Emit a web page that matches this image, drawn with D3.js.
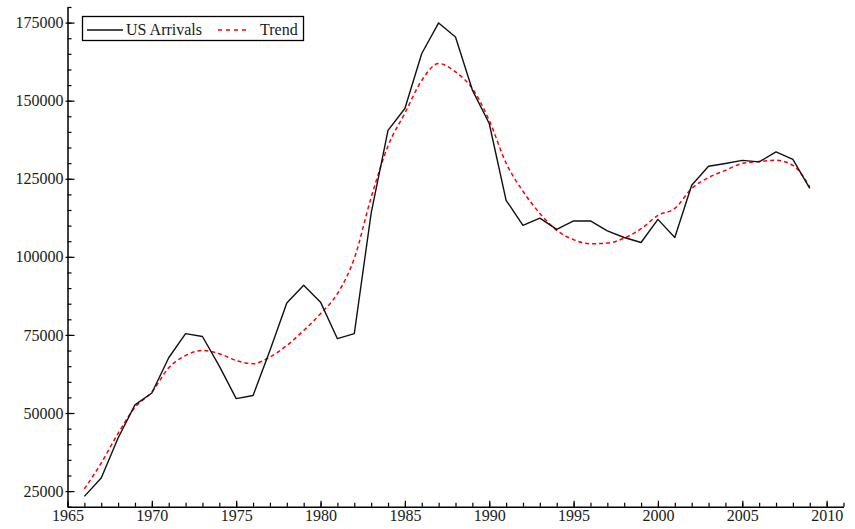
<!DOCTYPE html>
<html>
<head>
<meta charset="utf-8">
<script src="https://cdn.jsdelivr.net/npm/d3@7"></script>
<style>
  html, body { margin: 0; padding: 0; background: #fff; }
  svg { display: block; }
  text { font-family: "Liberation Serif", "Times New Roman", serif; }
</style>
</head>
<body>
<svg id="chart" width="855" height="529"></svg>
<script>
const years = [1966,1967,1968,1969,1970,1971,1972,1973,1974,1975,1976,1977,1978,1979,1980,
  1981,1982,1983,1984,1985,1986,1987,1988,1989,1990,1991,1992,1993,1994,1995,1996,1997,
  1998,1999,2000,2001,2002,2003,2004,2005,2006,2007,2008,2009];
const usArrivals = [23300,29200,42000,52600,56400,67700,75400,74500,65000,54600,55600,70000,
  85200,90900,85500,73800,75400,114000,140500,147500,165100,174900,170400,153400,142700,
  118100,110100,112400,108800,111500,111500,108300,106200,104600,112000,106200,122900,
  129000,129900,130900,130400,133600,131200,121900];
const trend = [25700,34000,43500,51800,56700,64500,68400,70000,69000,66800,65800,67900,71600,
  76400,81800,88200,99500,119000,135500,146000,156500,161900,159200,153900,143700,130000,
  121000,113900,108500,105500,104200,104400,106000,109000,113300,115500,121900,125400,
  127700,129900,130500,130900,129300,122400];
const xMajorTicks = [1965,1970,1975,1980,1985,1990,1995,2000,2005,2010];
const yMajorTicks = [25000,50000,75000,100000,125000,150000,175000];
const seriesNames = ["US Arrivals", "Trend"];

const svg = d3.select("#chart");
const x = d3.scaleLinear().domain([1965, 2011]).range([67.5, 843.5]);
const y = d3.scaleLinear().domain([20000, 180000]).range([506.7, 7]);

// minor y ticks
const yMinor = svg.append("g").attr("transform", `translate(${x(1965)},0)`)
  .call(d3.axisLeft(y).tickValues(d3.range(20000, 180001, 5000)).tickSize(-4).tickFormat(""));
yMinor.select(".domain").remove();
yMinor.selectAll("line").attr("stroke", "#000").attr("stroke-width", 1.2);

// major y axis
const yAx = svg.append("g").attr("transform", `translate(${x(1965)},0)`)
  .call(d3.axisLeft(y).tickValues(yMajorTicks).tickSize(-7).tickSizeOuter(0).tickPadding(4).tickFormat(d3.format("d")));
yAx.select(".domain").attr("stroke", "#000").attr("stroke-width", 1.5);
yAx.selectAll(".tick line").attr("x1", -2).attr("stroke", "#000").attr("stroke-width", 1.2);
yAx.selectAll("text").attr("font-size", 16).attr("fill", "#1a1a1a")
  .style("font-family", "'Liberation Serif', serif");

// minor x ticks
const xMinor = svg.append("g").attr("transform", `translate(0,${y(20000)})`)
  .call(d3.axisBottom(x).tickValues(d3.range(1965, 2012, 1)).tickSize(-4).tickFormat(""));
xMinor.select(".domain").remove();
xMinor.selectAll("line").attr("stroke", "#000").attr("stroke-width", 1.2);

// major x axis
const xAx = svg.append("g").attr("transform", `translate(0,${y(20000)})`)
  .call(d3.axisBottom(x).tickValues(xMajorTicks).tickSize(-6).tickSizeOuter(0).tickPadding(4).tickFormat(d3.format("d")));
xAx.select(".domain").attr("stroke", "#000").attr("stroke-width", 1.5);
xAx.selectAll(".tick line").attr("stroke", "#000").attr("stroke-width", 1.2);
xAx.selectAll("text").attr("font-size", 16).attr("fill", "#1a1a1a").attr("dy", "0.62em")
  .style("font-family", "'Liberation Serif', serif");

// lines
const arrData = years.map((yr, i) => [yr, usArrivals[i]]);
const trendData = years.map((yr, i) => [yr, trend[i]]);

svg.append("path").datum(trendData)
  .attr("fill", "none").attr("stroke", "#ff0000").attr("stroke-width", 1.5)
  .attr("stroke-dasharray", "4,3")
  .attr("d", d3.line().x(d => x(d[0])).y(d => y(d[1])).curve(d3.curveMonotoneX));

svg.append("path").datum(arrData)
  .attr("fill", "none").attr("stroke", "#111").attr("stroke-width", 1.4)
  .attr("stroke-linejoin", "round")
  .attr("d", d3.line().x(d => x(d[0])).y(d => y(d[1])));

// legend
const lg = svg.append("g");
lg.append("rect").attr("x", 82.5).attr("y", 16.5).attr("width", 221).attr("height", 24)
  .attr("fill", "#fff").attr("stroke", "#000").attr("stroke-width", 1.3);
lg.append("line").attr("x1", 87).attr("x2", 123).attr("y1", 30).attr("y2", 30)
  .attr("stroke", "#111").attr("stroke-width", 1.4);
lg.append("text").attr("x", 126).attr("y", 35).attr("font-size", 16).attr("fill", "#1a1a1a")
  .text(seriesNames[0]);
lg.append("line").attr("x1", 218).attr("x2", 250).attr("y1", 30).attr("y2", 30)
  .attr("stroke", "#ff0000").attr("stroke-width", 1.5).attr("stroke-dasharray", "4,4");
lg.append("text").attr("x", 260).attr("y", 35).attr("font-size", 16).attr("fill", "#1a1a1a")
  .text(seriesNames[1]);
</script>
</body>
</html>
